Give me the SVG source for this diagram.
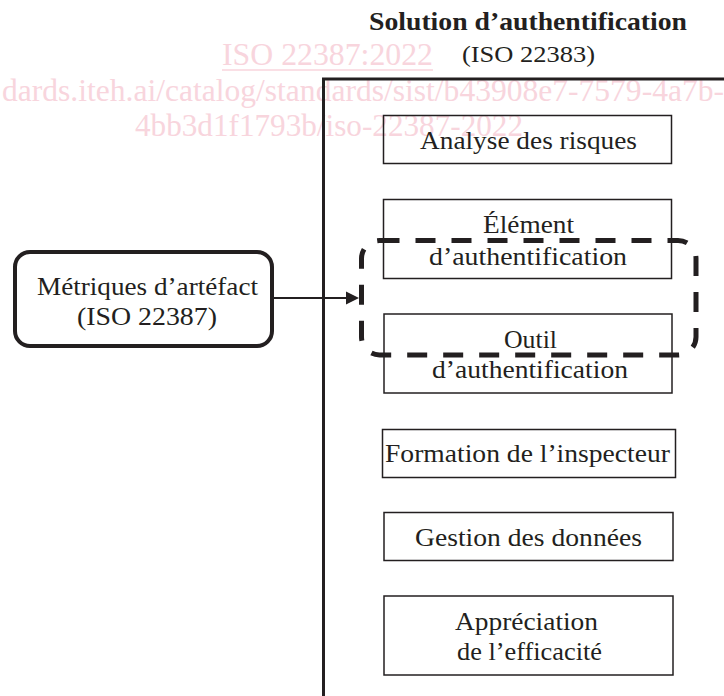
<svg xmlns="http://www.w3.org/2000/svg" width="724" height="696" viewBox="0 0 724 696">
<style>
.wm{font-family:"Liberation Serif","Times New Roman",serif;font-size:31px;fill:#f8d5dd}
.t{font-family:"Liberation Serif","Times New Roman",serif;font-size:26px;fill:#231f20;text-anchor:middle}
.ttl{font-family:"Liberation Serif","Times New Roman",serif;fill:#231f20;text-anchor:middle}
.box{fill:none;stroke:#231f20;stroke-width:1.5}
</style>
<rect width="724" height="696" fill="#ffffff"/>
<g id="watermark">
<text class="wm" x="222" y="65" textLength="211" lengthAdjust="spacingAndGlyphs">ISO 22387:2022</text>
<line x1="222" y1="70" x2="433" y2="70" stroke="#f8d5dd" stroke-width="1.5"/>
<text class="wm" x="2" y="101" textLength="722" lengthAdjust="spacingAndGlyphs">dards.iteh.ai/catalog/standards/sist/b43908e7-7579-4a7b-</text>
<text class="wm" x="135" y="136" textLength="388" lengthAdjust="spacingAndGlyphs">4bb3d1f1793b/iso-22387-2022</text>
</g>
<g id="title">
<text class="ttl" x="528" y="30" font-size="25" font-weight="bold" textLength="318" lengthAdjust="spacingAndGlyphs">Solution d’authentification</text>
<text class="ttl" x="528.5" y="62" font-size="24" textLength="133" lengthAdjust="spacingAndGlyphs">(ISO 22383)</text>
</g>
<g id="frame">
<path d="M323.5 700 V79 H730" fill="none" stroke="#231f20" stroke-width="3"/>
</g>
<g id="metriques">
<rect x="15" y="252" width="257" height="94" rx="15" fill="none" stroke="#231f20" stroke-width="4"/>
<text class="t" x="147.5" y="295" textLength="221" lengthAdjust="spacingAndGlyphs">Métriques d’artéfact</text>
<text class="t" x="147" y="325" textLength="140" lengthAdjust="spacingAndGlyphs">(ISO 22387)</text>
</g>
<g id="analyse">
<rect class="box" x="383.5" y="115.5" width="288" height="48"/>
<text class="t" x="528.5" y="149" textLength="217" lengthAdjust="spacingAndGlyphs">Analyse des risques</text>
</g>
<g id="element">
<rect class="box" x="383.5" y="199.5" width="288" height="79"/>
<text class="t" x="528.5" y="233" textLength="91" lengthAdjust="spacingAndGlyphs">Élément</text>
<text class="t" x="528" y="265" textLength="198" lengthAdjust="spacingAndGlyphs">d’authentification</text>
</g>
<g id="outil">
<rect class="box" x="384" y="314" width="288" height="79"/>
<text class="t" x="530.5" y="348" textLength="53" lengthAdjust="spacingAndGlyphs">Outil</text>
<text class="t" x="530" y="378" textLength="196" lengthAdjust="spacingAndGlyphs">d’authentification</text>
</g>
<g id="formation">
<rect class="box" x="382.5" y="429.5" width="293" height="48"/>
<text class="t" x="527.5" y="462" textLength="285" lengthAdjust="spacingAndGlyphs">Formation de l’inspecteur</text>
</g>
<g id="gestion">
<rect class="box" x="384" y="512.5" width="289" height="48"/>
<text class="t" x="528.5" y="546" textLength="227" lengthAdjust="spacingAndGlyphs">Gestion des données</text>
</g>
<g id="appreciation">
<rect class="box" x="384" y="596" width="289" height="79"/>
<text class="t" x="526.5" y="630" textLength="143" lengthAdjust="spacingAndGlyphs">Appréciation</text>
<text class="t" x="529.5" y="660" textLength="145" lengthAdjust="spacingAndGlyphs">de l’efficacité</text>
</g>
<g id="groupe">
<rect x="361.5" y="240.5" width="334.5" height="114.5" rx="18" fill="none" stroke="#231f20" stroke-width="5" stroke-dasharray="20 16"/>
</g>
<g id="connectors">
<line x1="274" y1="298" x2="348" y2="298" stroke="#231f20" stroke-width="2"/>
<polygon points="346,291.5 359,298 346,304.5" fill="#231f20"/>
</g>
</svg>
